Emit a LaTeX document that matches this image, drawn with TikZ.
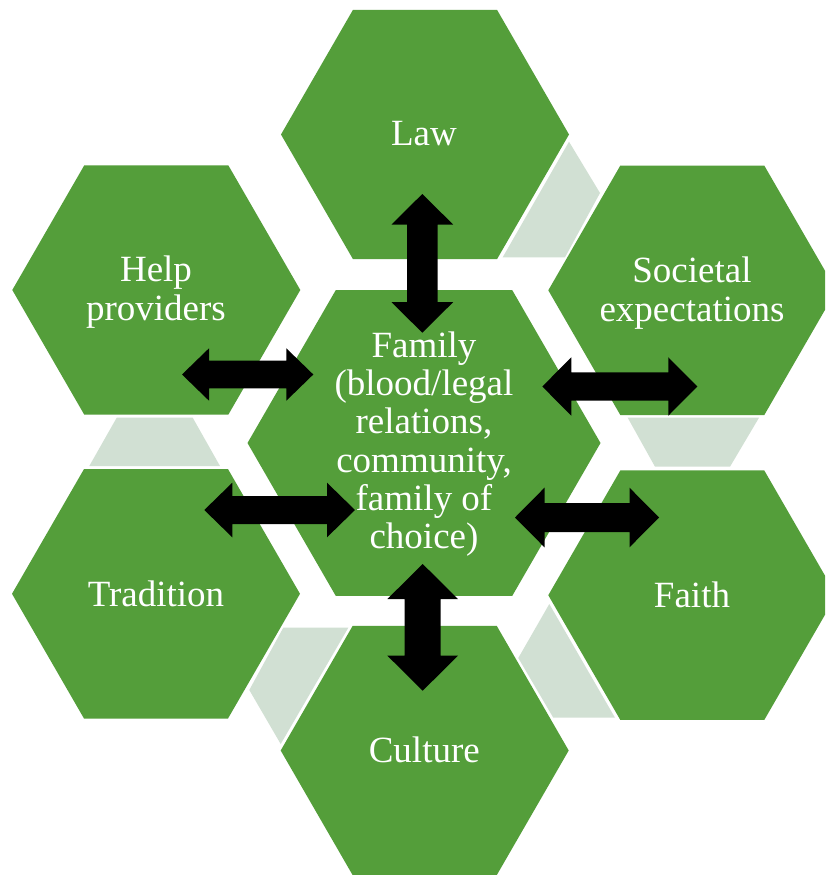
\documentclass[tikz,border=0pt]{standalone}
\usepackage{fontspec}
\setmainfont{Liberation Serif}
\usetikzlibrary{calc,shapes.geometric}
\definecolor{hexgreen}{RGB}{84,158,58}
\definecolor{paleband}{RGB}{209,224,211}
\tikzset{
  hexbox/.style={regular polygon, regular polygon sides=6, inner sep=0pt,
    outer sep=0pt, fill=hexgreen, draw=none, minimum size=#1},
  hexbox/.default=288pt,
  lbl/.style={text=white, align=center, inner sep=0pt,
    font=\fontsize{37}{38.3}\selectfont},
  band/.style={fill=paleband},
  blockarrow/.style={fill=black},
}
% horizontal double block arrow: start, end, head length, head half-width, shaft half-width
\newcommand\blockarrowH[5]{%
  \fill[blockarrow] (#1) -- ($(#1)+(#3,#4)$) -- ($(#1)+(#3,#5)$)
    -- ($(#2)+(-#3,#5)$) -- ($(#2)+(-#3,#4)$) -- (#2)
    -- ($(#2)+(-#3,-#4)$) -- ($(#2)+(-#3,-#5)$)
    -- ($(#1)+(#3,-#5)$) -- ($(#1)+(#3,-#4)$) -- cycle;}
% vertical double block arrow: top end, bottom end, head length, head half-width, shaft half-width
\newcommand\blockarrowV[5]{%
  \fill[blockarrow] (#1) -- ($(#1)+(#4,#3)$) -- ($(#1)+(#5,#3)$)
    -- ($(#2)+(#5,-#3)$) -- ($(#2)+(#4,-#3)$) -- (#2)
    -- ($(#2)+(-#4,-#3)$) -- ($(#2)+(-#5,-#3)$)
    -- ($(#1)+(-#5,#3)$) -- ($(#1)+(-#4,#3)$) -- cycle;}
\begin{document}
\begin{tikzpicture}[x=1pt,y=-1pt]
\useasboundingbox (0,0) rectangle (825,875);
\clip (0,0) rectangle (825,875);
\fill[white] (0,0) rectangle (825,875);

% pale bands between neighbouring outer hexagons
\fill[band] (569,141.7) -- (600,193) -- (565,257.3) -- (502.7,257.3) -- cycle;
\fill[band] (627.7,417.7) -- (759,417.7) -- (730,466.7) -- (655,466.7) -- cycle;
\fill[band] (549.3,604) -- (615,717.7) -- (553.3,717.7) -- (518.3,658) -- cycle;
\fill[band] (283.3,627.7) -- (348.3,627.7) -- (280.7,744) -- (249.3,690) -- cycle;
\fill[band] (116.7,417.7) -- (192.7,417.7) -- (220,466) -- (89.3,466) -- cycle;

% hexagons
\node[hexbox] (law) at (425,134.5) {};
\node[hexbox] (soc) at (692.3,290.3) {};
\node[hexbox] (faith) at (692.3,595.2) {};
\node[hexbox] (cult) at (424.7,750.5) {};
\node[hexbox] (trad) at (156,593.8) {};
\node[hexbox] (help) at (156.3,290) {};
\node[hexbox=353pt] (fam) at (424,443) {};

% arrow end points
\coordinate (lawA) at (422.3,194);   \coordinate (famN) at (422.3,332.7);
\coordinate (famS) at (422.7,564);   \coordinate (cultA) at (422.7,690.7);
\coordinate (helpA) at (182,374.5);  \coordinate (famNW) at (313.3,374.5);
\coordinate (famNE) at (542.3,386.5); \coordinate (socA) at (697.3,386.5);
\coordinate (tradA) at (204.3,510);  \coordinate (famSW) at (355,510);
\coordinate (famSE) at (515,517.5);  \coordinate (faithA) at (659,517.5);

\blockarrowV{lawA}{famN}{30.5}{30.8}{15.3}
\blockarrowV{famS}{cultA}{35}{35.3}{18}
\blockarrowH{helpA}{famNW}{27}{26.2}{13.8}
\blockarrowH{famNE}{socA}{29}{29.2}{14.2}
\blockarrowH{tradA}{famSW}{28}{27.3}{14}
\blockarrowH{famSE}{faithA}{29.5}{29.8}{14.5}

% labels
\node[lbl] (lawtxt) at (424,134) {Law};
\node[lbl] (soctxt) at (692,293) {Societal\\expectations};
\node[lbl] (faithtxt) at (692,594.5) {Faith};
\node[lbl] (culttxt) at (424.3,750) {Culture};
\node[lbl] (tradtxt) at (156,593.5) {Tradition};
\node[lbl] (helptxt) at (156,292) {Help\\providers};
\node[lbl] (famtxt) at (424,444) {Family\\(blood/legal\\relations,\\community,\\family of\\choice)};
\end{tikzpicture}
\end{document}
